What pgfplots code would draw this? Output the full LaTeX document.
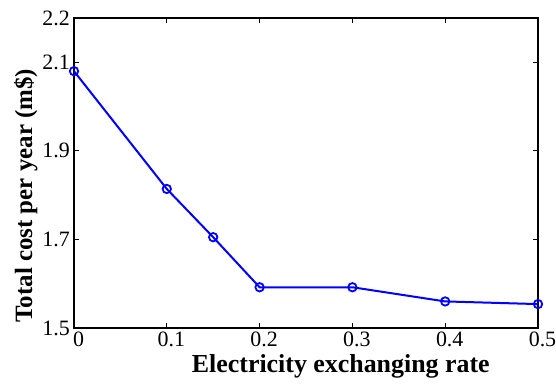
\documentclass[border=0pt]{standalone}
\usepackage{pgfplots}
\pgfplotsset{compat=1.18}
\usepackage{fontspec}
\setmainfont{Liberation Serif}
\begin{document}
\begin{tikzpicture}
\begin{axis}[
  at={(0,0)}, anchor=south west,
  scale only axis, width=464bp, height=310bp,
  xmin=0, xmax=0.5, ymin=1.5, ymax=2.2,
  xtick={0,0.1,0.2,0.3,0.4,0.5},
  ytick={1.5,1.7,1.9,2.1,2.2},
  xticklabels={0,0.1,0.2,0.3,0.4,0.5},
  yticklabels={1.5,1.7,1.9,2.1,2.2},
  tick align=inside, major tick length=5bp,
  axis line style={line width=1.2bp},
  every tick/.style={black, line width=0.8bp},
  tick label style={font=\fontsize{22}{26}\selectfont},
  xticklabel style={inner sep=1bp, xshift=4.5bp, yshift=-3bp},
  yticklabel style={inner sep=2bp, xshift=-2bp},
  xlabel={Electricity exchanging rate},
  ylabel={Total cost per year (m\$)},
  xlabel style={font=\fontsize{26}{30}\selectfont\bfseries, at={(axis description cs:0.575,-0.145)}, anchor=base},
  ylabel style={font=\fontsize{25}{30}\selectfont\bfseries, at={(axis description cs:-0.0905,0.427)}, anchor=base},
  clip=false,
]
\addplot[blue, line width=2bp, mark=o, mark size=4.2bp, mark options={line width=1.8bp}]
coordinates {(0,2.080) (0.1,1.814) (0.15,1.705) (0.2,1.592) (0.3,1.592) (0.4,1.560) (0.5,1.554)};
\end{axis}
\pgfresetboundingbox
\path (-74bp,-57bp) rectangle (482bp,328bp);
\end{tikzpicture}
\end{document}
